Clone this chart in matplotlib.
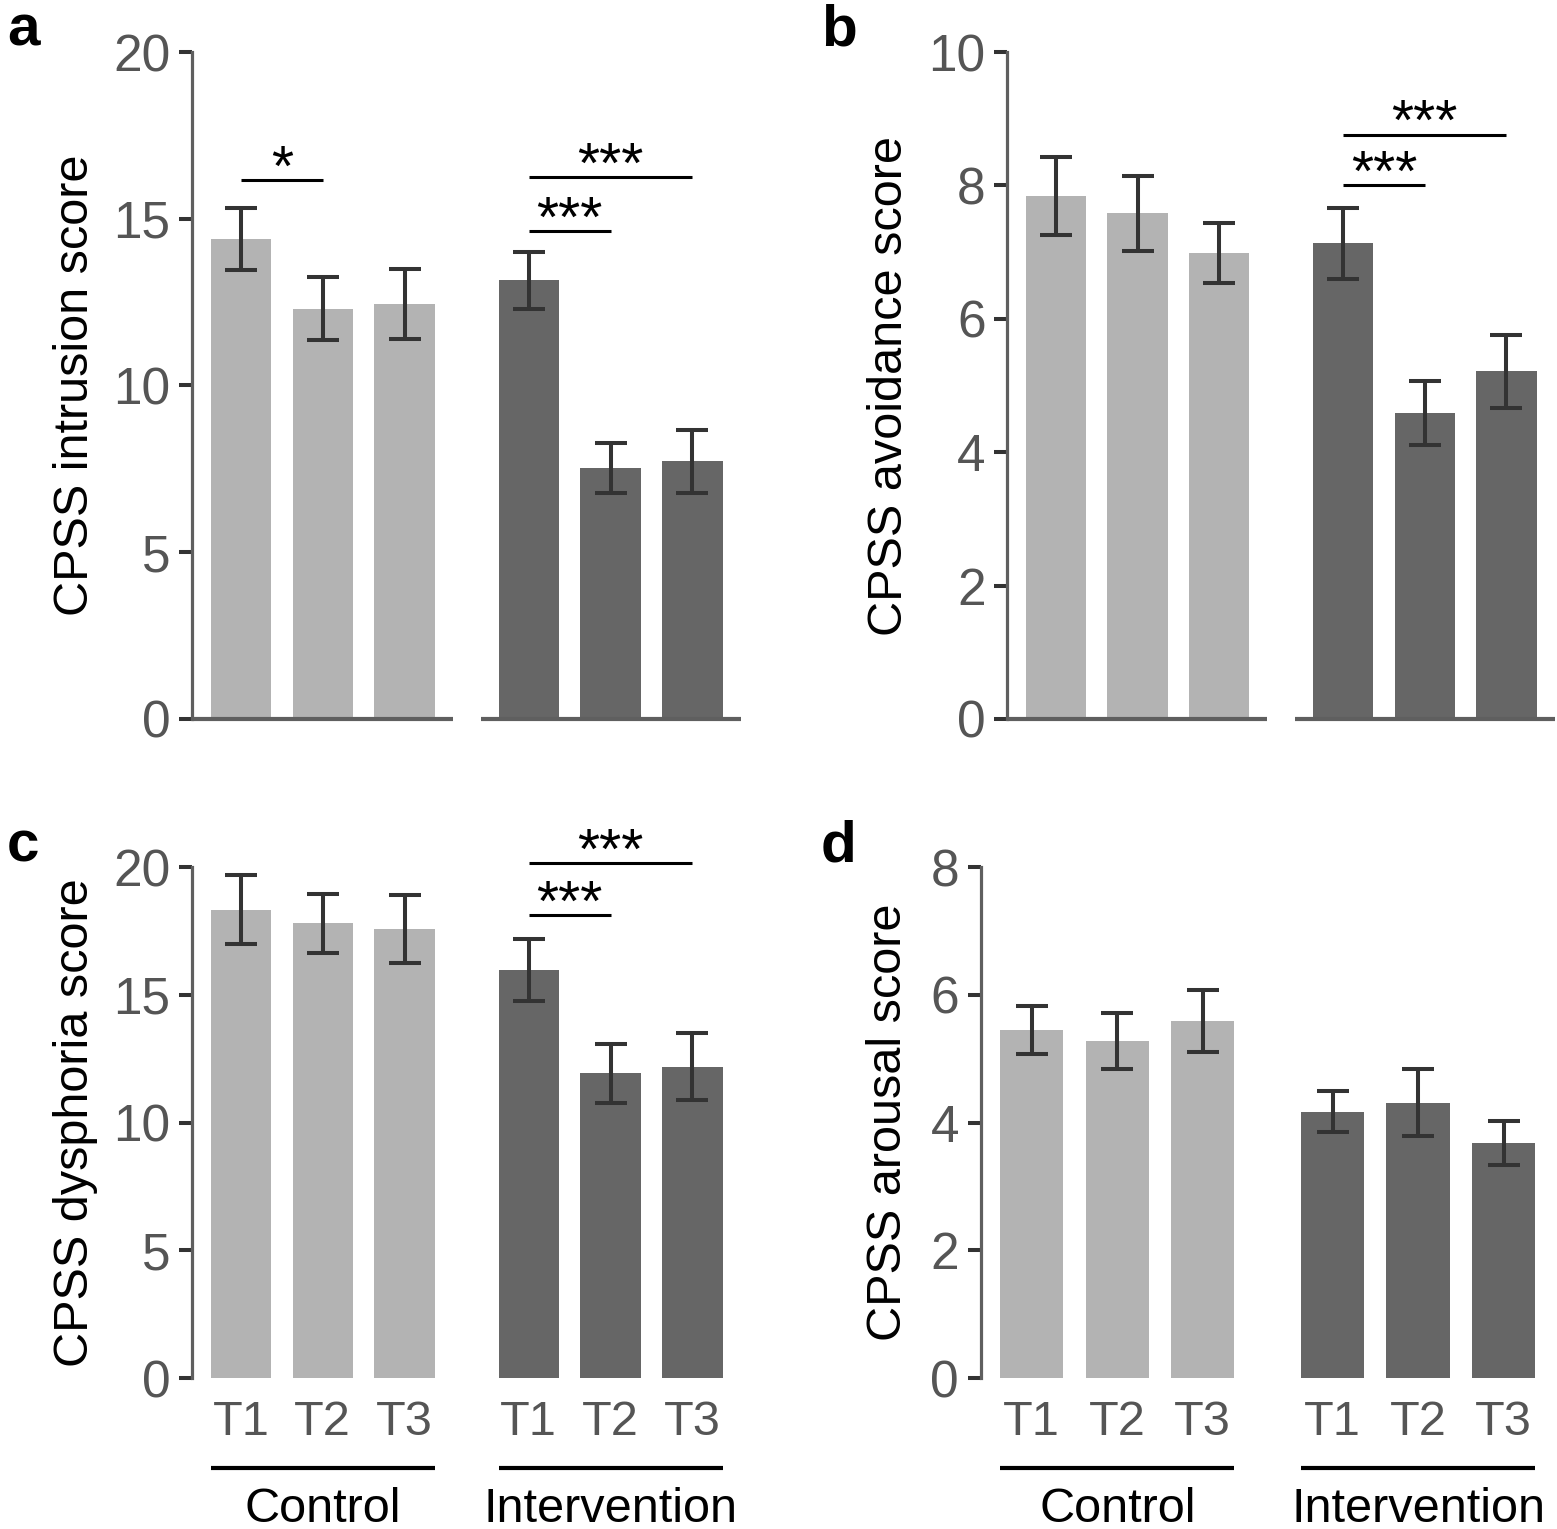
import matplotlib
matplotlib.use('Agg')
import matplotlib.pyplot as plt
import matplotlib.transforms as mtransforms
import numpy as np

plt.rcParams['font.family'] = ['Liberation Sans', 'DejaVu Sans']

# ---------------- data ----------------
time_points = ['T1', 'T2', 'T3']
groups = ['Control', 'Intervention']
panel_letters = ['a', 'b', 'c', 'd']
y_labels = ['CPSS intrusion score', 'CPSS avoidance score',
            'CPSS dysphoria score', 'CPSS arousal score']
y_max = [20, 10, 20, 8]
y_step = [5, 2, 5, 2]

intrusion_ctrl = [14.39, 12.30, 12.43]
intrusion_ctrl_se = [0.93, 0.94, 1.05]
intrusion_int = [13.15, 7.54, 7.73]
intrusion_int_se = [0.86, 0.75, 0.95]

avoidance_ctrl = [7.84, 7.58, 6.99]
avoidance_ctrl_se = [0.59, 0.565, 0.45]
avoidance_int = [7.13, 4.59, 5.21]
avoidance_int_se = [0.53, 0.475, 0.55]

dysphoria_ctrl = [18.32, 17.79, 17.57]
dysphoria_ctrl_se = [1.35, 1.16, 1.32]
dysphoria_int = [15.97, 11.92, 12.19]
dysphoria_int_se = [1.20, 1.14, 1.30]

arousal_ctrl = [5.45, 5.27, 5.59]
arousal_ctrl_se = [0.38, 0.44, 0.48]
arousal_int = [4.17, 4.31, 3.68]
arousal_int_se = [0.32, 0.52, 0.35]

# significance brackets: (bar index from, bar index to, height, label)
sig_a = [(0, 1, 16.15, '*'), (3, 4, 14.62, '***'), (3, 5, 16.25, '***')]
sig_b = [(3, 4, 8.00, '***'), (3, 5, 8.76, '***')]
sig_c = [(3, 4, 18.11, '***'), (3, 5, 20.14, '***')]
sig_d = []

panels = [
    (intrusion_ctrl, intrusion_ctrl_se, intrusion_int, intrusion_int_se, sig_a),
    (avoidance_ctrl, avoidance_ctrl_se, avoidance_int, avoidance_int_se, sig_b),
    (dysphoria_ctrl, dysphoria_ctrl_se, dysphoria_int, dysphoria_int_se, sig_c),
    (arousal_ctrl, arousal_ctrl_se, arousal_int, arousal_int_se, sig_d),
]

# ---------------- style / layout ----------------
W, H = 1557, 1529
fig = plt.figure(figsize=(W / 100, H / 100), dpi=100)

# pixel rectangles (left, right, top, bottom)
rects = [(192, 740.5, 52, 719), (1007, 1554.5, 52, 719),
         (192, 740.5, 867, 1378), (980.5, 1554, 867, 1378)]
letter_pos = [(7, 45), (821, 45), (7, 861), (821, 861)]
label_x = [-0.172, -0.173, -0.172, -0.121]

light = '#b3b3b3'
dark = '#666666'
gap = 1.52
x_pos = np.array([0, 1, 2, 2 + gap, 3 + gap, 4 + gap])
bar_w = 0.74
xmin, xmax = -0.6, 4 + gap + 0.59

for i, (ctrl, ctrl_se, inter, inter_se, sigs) in enumerate(panels):
    L, R, T, B = rects[i]
    ax = fig.add_axes([L / W, 1 - B / H, (R - L) / W, (B - T) / H])
    means = list(ctrl) + list(inter)
    ses = list(ctrl_se) + list(inter_se)
    colors = [light] * 3 + [dark] * 3
    ax.bar(x_pos, means, width=bar_w, color=colors, zorder=2)
    ax.errorbar(x_pos, means, yerr=ses, fmt='none', ecolor='#333333',
                elinewidth=2.9, capsize=11.5, capthick=2.9, zorder=3)
    ax.set_xlim(xmin, xmax)
    ax.set_ylim(0, y_max[i])
    for s in ['top', 'right', 'bottom']:
        ax.spines[s].set_visible(False)
    ax.spines['left'].set_color('#5f5f5f')
    ax.spines['left'].set_linewidth(2.3)
    ax.set_yticks(np.arange(0, y_max[i] + 0.01, y_step[i]))
    ax.tick_params(axis='y', length=9.4, width=2.9, color='#333333',
                   labelsize=37, labelcolor='#555555', pad=6)
    ax.set_ylabel(y_labels[i], fontsize=35, color='black')
    ax.yaxis.set_label_coords(label_x[i], 0.5)

    trans = mtransforms.blended_transform_factory(ax.transData, ax.transAxes)
    if i < 2:
        ax.set_xticks([])
        # broken baseline under each group
        ax.plot([xmin, x_pos[2] + 0.59], [0, 0], color='#5f5f5f', lw=3,
                clip_on=False, solid_capstyle='butt', zorder=4)
        ax.plot([x_pos[3] - 0.59, xmax], [0, 0], color='#5f5f5f', lw=3,
                clip_on=False, solid_capstyle='butt', zorder=4)
    else:
        ax.set_xticks(x_pos, labels=time_points * 2)
        ax.tick_params(axis='x', length=0, labelsize=35,
                       labelcolor='#555555', pad=15.5)
        hpx = B - T
        for g, name in enumerate(groups):
            idx = [3 * g, 3 * g + 2]
            x0 = x_pos[idx[0]] - bar_w / 2
            x1 = x_pos[idx[1]] + bar_w / 2
            ax.plot([x0, x1], [-90 / hpx, -90 / hpx], transform=trans,
                    color='black', lw=3, clip_on=False,
                    solid_capstyle='butt')
            ax.text((x_pos[idx[0]] + x_pos[idx[1]]) / 2, -144 / hpx, name,
                    transform=trans, ha='center', va='baseline',
                    fontsize=35, color='black')

    for (a, b, y, lab) in sigs:
        ax.plot([x_pos[a], x_pos[b]], [y, y], color='black', lw=2.2,
                clip_on=False, solid_capstyle='butt', zorder=4)
        ax.annotate(lab, xy=((x_pos[a] + x_pos[b]) / 2, y),
                    xytext=(0, -4), textcoords='offset points',
                    ha='center', va='baseline', fontsize=41,
                    color='black', annotation_clip=False)

    lx, ly = letter_pos[i]
    fig.text(lx / W, 1 - ly / H, panel_letters[i], fontsize=42,
             fontweight='bold', va='baseline', ha='left')

fig.savefig('out.png', dpi=100)
